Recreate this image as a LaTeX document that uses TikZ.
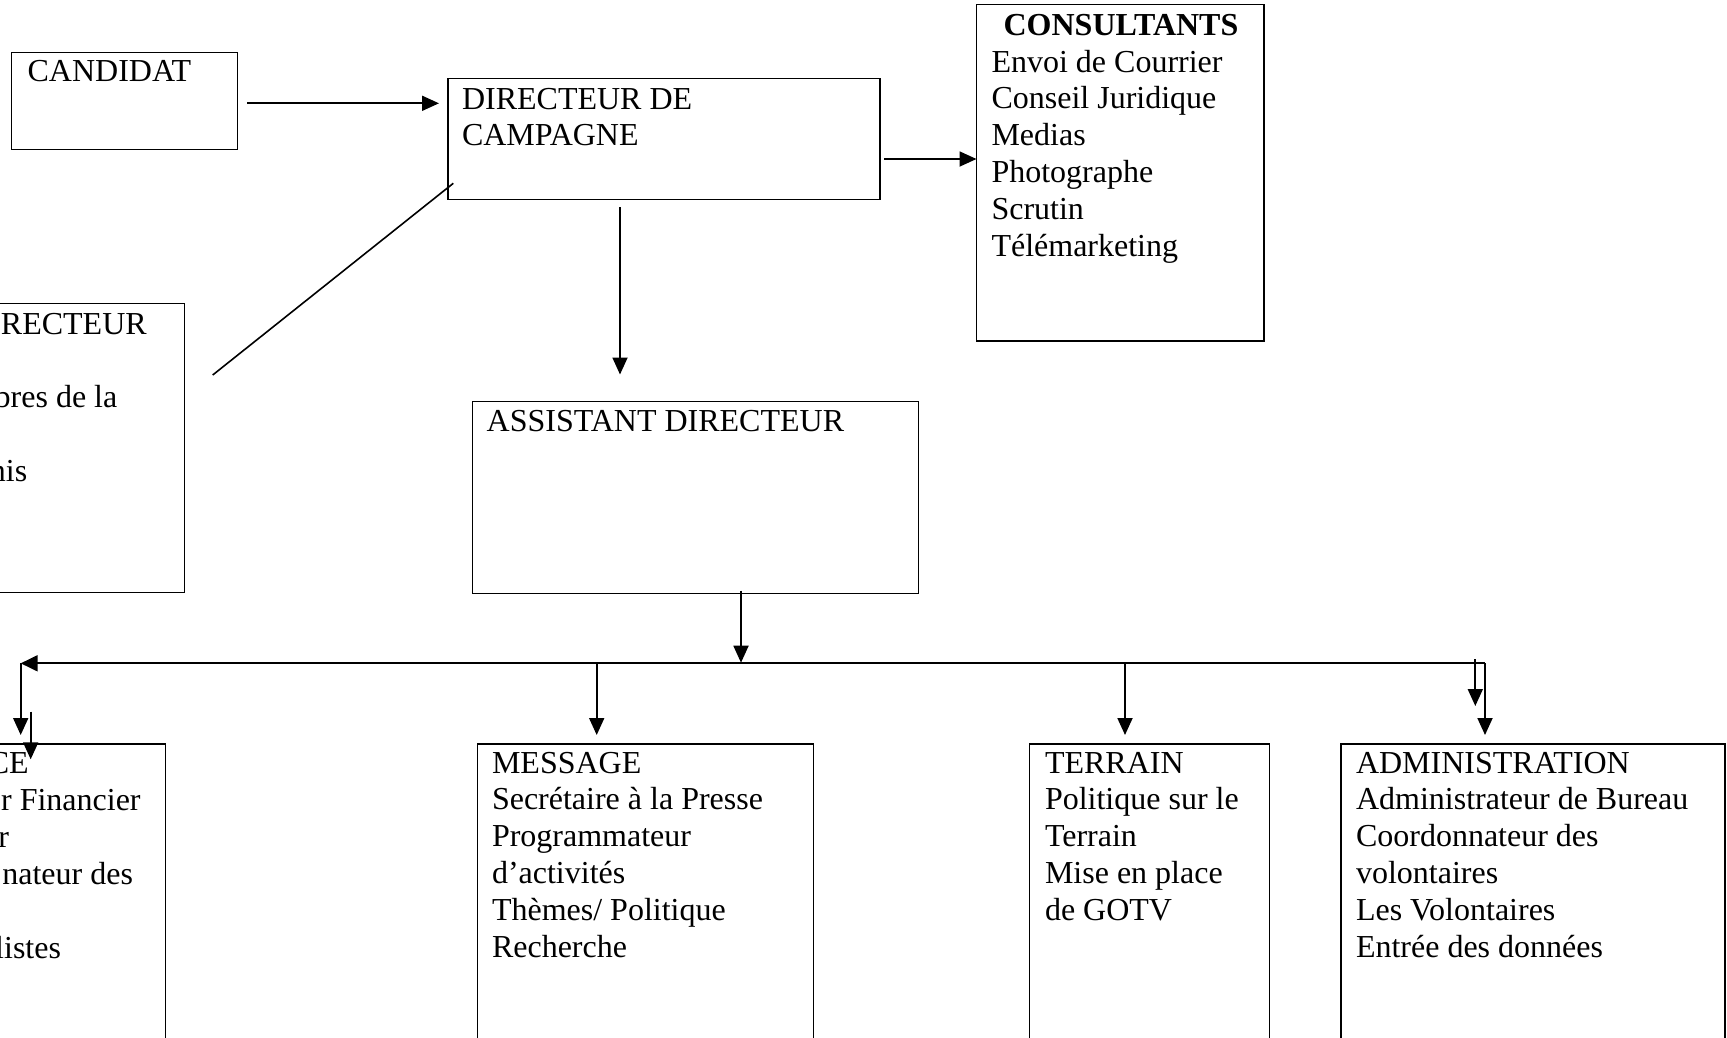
\documentclass[tikz,border=0pt]{standalone}
\usepackage{fontspec}
\setmainfont{Liberation Serif}
\usetikzlibrary{arrows.meta,calc}
\tikzset{
  box/.style={draw, line width=1.3pt, inner sep=0pt, outer sep=0pt, anchor=north west},
  txt/.style={inner sep=0pt, outer sep=0pt, font=\fontsize{32}{36.8}\selectfont},
  arr/.style={line width=1.8pt, -{Triangle[length=17pt,width=15pt]}},
  plain/.style={line width=1.6pt},
  busline/.style={line width=2pt}
}
\newcommand{\lines}[1]{\begin{tabular}[t]{@{}l@{}}#1\end{tabular}}
\begin{document}
\begin{tikzpicture}[x=1pt,y=-1pt]
\useasboundingbox (0,0) rectangle (1727,1037);
\clip (0,0) rectangle (1727,1037);
\fill[white] (0,0) rectangle (1727,1037);

% boxes
\node[box, minimum width=226.2pt, minimum height=97pt] (cand) at (11.5,52.3) {};
\node[box, minimum width=432pt, minimum height=120.6pt] (dir) at (448,78.7) {};
\node[box, minimum width=287.5pt, minimum height=336.7pt] (cons) at (976.5,4.3) {};
\node[box, minimum width=204.5pt, minimum height=289pt] (comite) at (-20,303.5) {};
\node[box, minimum width=446.4pt, minimum height=191.6pt] (asst) at (472.3,401.7) {};
\node[box, minimum width=185.3pt, minimum height=330pt] (fin) at (-20,744) {};
\node[box, minimum width=335.8pt, minimum height=330pt] (msg) at (477.6,744) {};
\node[box, minimum width=240pt, minimum height=330pt] (terr) at (1029.7,744) {};
\node[box, minimum width=384pt, minimum height=330pt] (adm) at (1341,744) {};

% texts
\node[txt, anchor=base west] (candT) at (27.6,81.7) {CANDIDAT};
\node[txt, anchor=base west] (dirT) at (462,109) {\lines{DIRECTEUR DE\\CAMPAGNE}};
\node[txt, anchor=base] (consH) at (1121,35) {\textbf{CONSULTANTS}};
\node[txt, anchor=base west] (consT) at (991.5,72) {\lines{Envoi de Courrier\\Conseil Juridique\\Medias\\Photographe\\Scrutin\\Télémarketing}};
\node[txt, anchor=base west] (asstT) at (486.7,431.7) {ASSISTANT DIRECTEUR};
\node[txt, anchor=base east] (comT1) at (146.7,334) {RECTEUR};
\node[txt, anchor=base east] (comT2) at (117.3,407) {bres de la};
\node[txt, anchor=base east] (comT3) at (27.3,481) {nis};
\node[txt, anchor=base east] (finT1) at (28.7,773) {CE};
\node[txt, anchor=base east] (finT2) at (140.6,810) {r Financier};
\node[txt, anchor=base east] (finT3) at (9,847) {r};
\node[txt, anchor=base east] (finT4) at (133,884) {nateur des};
\node[txt, anchor=base east] (finT5) at (61,958) {listes};
\node[txt, anchor=base west] (msgT) at (492,773) {\lines{MESSAGE\\Secrétaire à la Presse\\Programmateur\\d’activités\\Thèmes/ Politique\\Recherche}};
\node[txt, anchor=base west] (terrT) at (1045,773) {\lines{TERRAIN\\Politique sur le\\Terrain\\Mise en place\\de GOTV}};
\node[txt, anchor=base west] (admT) at (1356,773) {\lines{ADMINISTRATION\\Administrateur de Bureau\\Coordonnateur des\\volontaires\\Les Volontaires\\Entrée des données}};

% top connectors
\draw[arr] ($(cand.east)+(9.3,2.5)$) -- ($(dir.west)+(-9,-35.7)$);
\draw[arr] ($(dir.east)+(4,20)$) -- ($(cons.west)+(0,-13.65)$);
\draw[arr] ($(dir.south)+(-44,8)$) -- ($(asst.north)+(-75.5,-27.2)$);
\draw[plain] ($(dir.south west)+(5.3,-16)$) -- ($(comite.north east)+(28.2,71.5)$);

% bus
\coordinate (busL) at ($(fin.north west)+(40.7,-80.7)$);
\coordinate (busR) at ($(adm.north west)+(144,-80.7)$);
\draw[busline, -{Triangle[length=17pt,width=16pt]}] (busR) -- (busL);
\draw[arr] ($(asst.south)+(45.5,-2.6)$) -- ($(asst.south)+(45.5,69.4)$);

% branches
\draw[arr] (busL) -- ($(fin.north west)+(40.7,-9)$);
\draw[arr] ($(fin.north west)+(50.7,-32.3)$) -- ($(fin.north west)+(50.7,15.3)$);
\draw[arr] ($(msg.north)+(-48.8,-80.7)$) -- ($(msg.north)+(-48.8,-9)$);
\draw[arr] ($(terr.north)+(-24.7,-80.7)$) -- ($(terr.north)+(-24.7,-9)$);
\draw[arr] (busR) -- ($(adm.north west)+(144,-9)$);
\draw[arr] ($(adm.north west)+(134.3,-85)$) -- ($(adm.north west)+(134.3,-38)$);
\end{tikzpicture}
\end{document}
